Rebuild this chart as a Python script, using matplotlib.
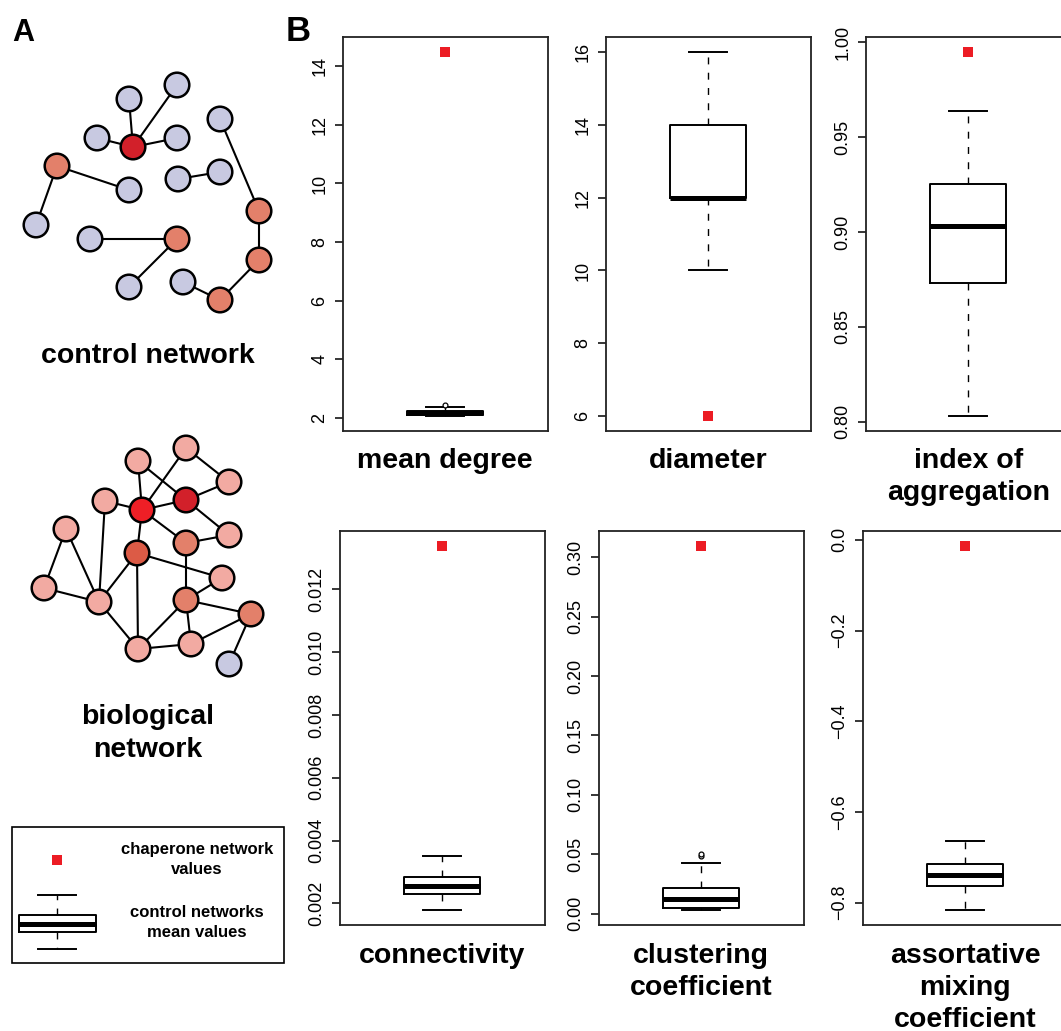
import numpy as np
import matplotlib.pyplot as plt
from matplotlib.patches import Circle, Rectangle

plt.rcParams['font.family'] = ['Liberation Sans', 'DejaVu Sans']

W, H = 1061, 1031
RED = '#ec1c24'

# ---- panel B: box plot summaries ----
metrics = ['mean degree', 'diameter', 'index of\naggregation',
           'connectivity', 'clustering\ncoefficient',
           'assortative\nmixing\ncoefficient']
chaperone = [14.5, 6, 0.995, 0.01339, 0.3097, -0.0126]
whislo = [2.05, 10, 0.8028, 0.00178, 0.0028, -0.817]
q1 = [2.09, 12, 0.873, 0.00231, 0.0051, -0.7633]
med = [2.17, 12, 0.9032, 0.00256, 0.0126, -0.738]
q3 = [2.25, 14, 0.9251, 0.00284, 0.0219, -0.7138]
whishi = [2.37, 16, 0.9637, 0.0035, 0.0427, -0.664]
fliers = [[2.43], [], [], [], [0.0485, 0.0505], []]
yticks = [
    [2, 4, 6, 8, 10, 12, 14],
    [6, 8, 10, 12, 14, 16],
    [0.80, 0.85, 0.90, 0.95, 1.00],
    [0.002, 0.004, 0.006, 0.008, 0.010, 0.012],
    [0.00, 0.05, 0.10, 0.15, 0.20, 0.25, 0.30],
    [-0.8, -0.6, -0.4, -0.2, 0.0],
]
tick_fmt = ['%g', '%g', '%.2f', '%.3f', '%.2f', '%.1f']

# ---- panel A: toy networks (pixel positions in the figure) ----
ctrl_xy = [(129, 99), (177, 85), (97, 138), (133, 147), (177, 138), (220, 119),
           (57, 166), (129, 190), (178, 179), (220, 172), (36, 225), (259, 211),
           (90, 239), (177, 239), (259, 260), (129, 287), (183, 282), (220, 300)]
ctrl_col = ['g', 'g', 'g', 'r', 'g', 'g', 'o', 'g', 'g', 'g', 'g', 'o',
            'g', 'o', 'o', 'g', 'g', 'o']
ctrl_edges = [(3, 0), (3, 1), (3, 2), (3, 4), (6, 7), (6, 10), (8, 9),
              (5, 11), (11, 14), (14, 17), (17, 16), (12, 13), (13, 15)]

bio_xy = [(186, 448), (138, 461), (229, 482), (105, 501), (142, 510), (186, 500),
          (66, 529), (229, 535), (186, 543), (137, 553), (222, 578), (44, 588),
          (99, 602), (186, 600), (251, 614), (138, 649), (191, 644), (229, 664)]
bio_col = ['p', 'p', 'p', 'p', 'R', 'r', 'p', 'p', 'o', 'x', 'p', 'p',
           'p', 'o', 'o', 'p', 'p', 'g']
bio_edges = [(1, 4), (0, 4), (1, 5), (0, 2), (2, 5), (3, 4), (4, 5), (5, 7),
             (4, 8), (8, 7), (4, 9), (3, 12), (6, 11), (6, 12), (11, 12),
             (9, 12), (9, 10), (9, 15), (8, 13), (13, 10), (13, 14), (13, 16),
             (13, 15), (12, 15), (15, 16), (16, 14), (14, 17)]

node_colors = {'g': '#c8c9e1', 'p': '#f2aaa2', 'o': '#e3806a',
               'x': '#dc5b46', 'r': '#d2202a', 'R': '#ee1f26'}

fig = plt.figure(figsize=(W / 100, H / 100), dpi=100)

# full-figure axis in pixel units for panel A and text
ax0 = fig.add_axes([0, 0, 1, 1])
ax0.axis('off')

bold = dict(weight='bold', color='black')


def put_lines(x, y, s, dy, size):
    # one text per line so the first baseline sits at y
    for k, line in enumerate(s.split('\n')):
        ax0.text(x, y + k * dy, line, fontsize=size, ha='center',
                 va='baseline', **bold)


def draw_net(xy, cols, edges):
    for a, b in edges:
        ax0.plot([xy[a][0], xy[b][0]], [xy[a][1], xy[b][1]],
                 color='black', lw=1.5, zorder=2)
    for (x, y), c in zip(xy, cols):
        ax0.add_patch(Circle((x, y), 12.3, fc=node_colors[c], ec='black',
                             lw=1.8, zorder=3))


draw_net(ctrl_xy, ctrl_col, ctrl_edges)
draw_net(bio_xy, bio_col, bio_edges)

ax0.text(12, 41, 'A', fontsize=22, ha='left', va='baseline', **bold)
ax0.text(286, 41, 'B', fontsize=25, ha='left', va='baseline', **bold)
put_lines(148, 363, 'control network', 33, 20.5)
put_lines(148, 724, 'biological\nnetwork', 33, 20.5)

# legend box
ax0.add_patch(Rectangle((12, 827), 272, 136, fill=False, ec='black', lw=1.2))
ax0.plot([57], [860], 's', color=RED, ms=7.3, mew=0)
put_lines(197, 854, 'chaperone network\nvalues', 20, 12)
put_lines(197, 917, 'control networks\nmean values', 20, 12)

box_style = dict(
    boxprops=dict(color='black', lw=1.4),
    whiskerprops=dict(color='black', lw=1.0, linestyle=(0, (5, 6))),
    capprops=dict(color='black', lw=1.4),
    medianprops=dict(color='black', lw=3.6, solid_capstyle='butt'),
    flierprops=dict(marker='o', ms=3.5, mfc='white', mec='black', mew=0.9),
)
ax0.bxp([dict(med=924.3, q1=932, q3=915.3, whislo=948.7, whishi=895,
              fliers=[])], positions=[57.3], widths=[76.7],
        manage_ticks=False, **box_style)
ax0.set_xlim(0, W)
ax0.set_ylim(H, 0)

# panel B axes, positions in pixels (left, top)
panel_pos = [(343, 37), (606, 37), (866, 37), (340, 531), (599, 531), (863, 531)]
pw, ph = 204.5, 394
label_base = [468, 468, 468, 963, 963, 963]

for i in range(6):
    left, top = panel_pos[i]
    ax = fig.add_axes([left / W, 1 - (top + ph) / H, pw / W, ph / H])
    st = dict(med=med[i], q1=q1[i], q3=q3[i], whislo=whislo[i],
              whishi=whishi[i], fliers=fliers[i])
    ax.bxp([st], positions=[1], widths=0.372, manage_ticks=False, **box_style)
    ax.plot([1], [chaperone[i]], 's', color=RED, ms=7.3, mew=0, zorder=5)

    vals = [whislo[i], whishi[i], chaperone[i]] + fliers[i]
    lo, hi = min(vals), max(vals)
    r = hi - lo
    ax.set_ylim(lo - 0.04 * r, hi + 0.04 * r)
    ax.set_xlim(0.5, 1.5)
    ax.set_xticks([])
    ax.set_yticks(yticks[i])
    ax.set_yticklabels([(tick_fmt[i] % v).replace('-', '\u2212')
                        for v in yticks[i]])
    ax.tick_params(axis='y', direction='out', length=5.5, width=1.1,
                   labelsize=13, pad=5, labelrotation=90)
    for lbl in ax.get_yticklabels():
        lbl.set_va('center')
    for s in ax.spines.values():
        s.set_linewidth(1.3)
        s.set_color('#222222')

    put_lines(left + pw / 2, label_base[i], metrics[i], 32, 20.5)

fig.savefig('out.png', dpi=100)
